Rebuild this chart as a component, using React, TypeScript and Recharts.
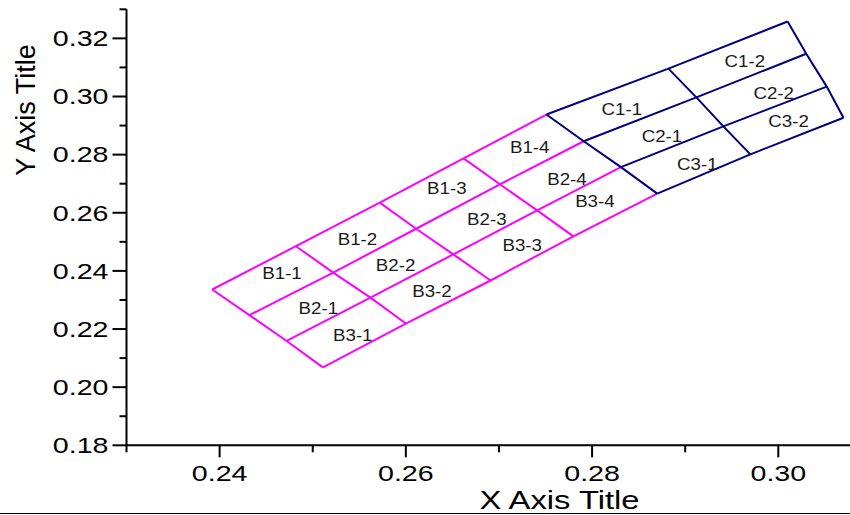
import React from 'react';
import { ScatterChart, Scatter, XAxis, YAxis, Label } from 'recharts';

// ---- axis ticks ----
const xTicks = [0.23, 0.24, 0.25, 0.26, 0.27, 0.28, 0.29, 0.3];
const yTicks = [0.18, 0.19, 0.2, 0.21, 0.22, 0.23, 0.24, 0.25, 0.26, 0.27, 0.28, 0.29, 0.3, 0.31, 0.32, 0.33];
const xDomain = [0.23, 0.3077];
const yDomain = [0.18, 0.33];

// ---- B grid vertices (rows 0..3, columns 0..4) ----
const bX = [
  [0.2392, 0.2482, 0.2572, 0.2662, 0.2751],
  [0.2432, 0.2522, 0.2611, 0.2701, 0.2791],
  [0.2472, 0.2562, 0.2651, 0.2741, 0.2831],
  [0.2511, 0.26, 0.2691, 0.278, 0.287],
];
const bY = [
  [0.2336, 0.2485, 0.2635, 0.2787, 0.2938],
  [0.2248, 0.2394, 0.2545, 0.2698, 0.2846],
  [0.2159, 0.2308, 0.2457, 0.2608, 0.2757],
  [0.2068, 0.2219, 0.2367, 0.2519, 0.2666],
];

// ---- C grid vertices (rows 0..3, columns 0..2) ----
const cX = [
  [0.2751, 0.2882, 0.301],
  [0.2791, 0.2912, 0.303],
  [0.2831, 0.2941, 0.3052],
  [0.287, 0.297, 0.307],
];
const cY = [
  [0.2938, 0.3096, 0.3258],
  [0.2846, 0.2997, 0.3147],
  [0.2757, 0.2897, 0.3034],
  [0.2666, 0.2801, 0.2927],
];

// ---- cell labels ----
const labelNames = ['B1-1', 'B2-1', 'B3-1', 'B1-2', 'B2-2', 'B3-2', 'B1-3', 'B2-3', 'B3-3', 'B1-4', 'B2-4', 'B3-4', 'C1-1', 'C2-1', 'C3-1', 'C1-2', 'C2-2', 'C3-2'];
const labelX = [0.2467, 0.2506, 0.2543, 0.2548, 0.2589, 0.2628, 0.2644, 0.2687, 0.2725, 0.2733, 0.2773, 0.2803, 0.2832, 0.2875, 0.2913, 0.2964, 0.2995, 0.3011];
const labelY = [0.2395, 0.2275, 0.2182, 0.2512, 0.2423, 0.2334, 0.2687, 0.2581, 0.2492, 0.2828, 0.2718, 0.2643, 0.2959, 0.2866, 0.277, 0.3124, 0.3014, 0.2918];

const MAGENTA = '#FF00FF';
const NAVY = '#000080';
const FONT = "'Liberation Sans', Arial, sans-serif";

type Pt = { x: number; y: number };

function gridSegments(gx: number[][], gy: number[][], skipLastCol: boolean): Pt[][] {
  const rows = gx.length;
  const cols = gx[0].length;
  const segs: Pt[][] = [];
  for (let r = 0; r < rows; r++) {
    segs.push(gx[r].map((x, c) => ({ x, y: gy[r][c] })));
  }
  const colCount = skipLastCol ? cols - 1 : cols;
  for (let c = 0; c < colCount; c++) {
    const s: Pt[] = [];
    for (let r = 0; r < rows; r++) s.push({ x: gx[r][c], y: gy[r][c] });
    segs.push(s);
  }
  return segs;
}

const bSegments = gridSegments(bX, bY, true);
const cSegments = gridSegments(cX, cY, false);
const labelData = labelNames.map((name, i) => ({ x: labelX[i], y: labelY[i], name }));

const EmptyShape = () => <g />;

const LabelShape = (p: any) => (
  <text
    transform={`translate(${p.cx},${p.cy + 6.5}) scale(1.1,1)`}
    textAnchor="middle"
    fontSize={17}
    fontFamily={FONT}
    fill="#1a1a1a"
  >
    {p.payload.name}
  </text>
);

const isMajor = (v: number) => Math.round(v * 100) % 2 === 0;

const YTick = (props: any) => {
  const { x, y, payload } = props;
  const v = payload.value as number;
  const major = isMajor(v);
  return (
    <g>
      <line x1={x} x2={x - (major ? 14 : 7)} y1={y} y2={y} stroke="#000" strokeWidth={2} />
      {major && (
        <text
          transform={`translate(${x - 18},${y + 7.8}) scale(1.3,1)`}
          textAnchor="end"
          fontSize={22}
          fontFamily={FONT}
          fill="#000"
        >
          {v.toFixed(2)}
        </text>
      )}
    </g>
  );
};

const XTick = (props: any) => {
  const { x, y, payload } = props;
  const v = payload.value as number;
  const major = isMajor(v);
  return (
    <g>
      <line x1={x} x2={x} y1={y} y2={y + (major ? 12 : 7)} stroke="#000" strokeWidth={2} />
      {major && (
        <text
          transform={`translate(${x},${y + 35.4}) scale(1.3,1)`}
          textAnchor="middle"
          fontSize={22}
          fontFamily={FONT}
          fill="#000"
        >
          {v.toFixed(2)}
        </text>
      )}
    </g>
  );
};

const XTitle = () => (
  <text transform="translate(559.5,508.5) scale(1.26,1)" textAnchor="middle" fontSize={26} fontFamily={FONT} fill="#000">
    X Axis Title
  </text>
);

const YTitle = () => (
  <text transform="translate(35,110) rotate(-90)" textAnchor="middle" fontSize={27} fontFamily={FONT} fill="#000">
    Y Axis Title
  </text>
);

export default function App() {
  return (
    <div style={{ position: 'fixed', left: 0, top: 0, width: 850, height: 515, background: '#fff' }}>
      <ScatterChart width={850} height={515} margin={{ top: 9.3, right: 0, bottom: 0, left: 0 }}>
        <XAxis
          type="number"
          dataKey="x"
          domain={xDomain}
          ticks={xTicks}
          interval={0}
          allowDataOverflow
          height={69.7}
          tickSize={0}
          tickMargin={0}
          tickLine={false}
          axisLine={{ stroke: '#000', strokeWidth: 2 }}
          tick={<XTick />}
          label={<Label content={<XTitle />} />}
        />
        <YAxis
          type="number"
          dataKey="y"
          domain={yDomain}
          ticks={yTicks}
          interval={0}
          allowDataOverflow
          width={126.5}
          tickSize={0}
          tickMargin={0}
          tickLine={false}
          axisLine={{ stroke: '#000', strokeWidth: 2 }}
          tick={<YTick />}
          label={<Label content={<YTitle />} />}
        />
        {bSegments.map((seg, i) => (
          <Scatter
            key={`b${i}`}
            data={seg}
            fill={MAGENTA}
            stroke={MAGENTA}
            line={{ stroke: MAGENTA, strokeWidth: 2 }}
            shape={<EmptyShape />}
            isAnimationActive={false}
          />
        ))}
        {cSegments.map((seg, i) => (
          <Scatter
            key={`c${i}`}
            data={seg}
            fill={NAVY}
            stroke={NAVY}
            line={{ stroke: NAVY, strokeWidth: 2 }}
            shape={<EmptyShape />}
            isAnimationActive={false}
          />
        ))}
        <Scatter data={labelData} fill="#1a1a1a" shape={<LabelShape />} isAnimationActive={false} />
      </ScatterChart>
      <div style={{ position: 'absolute', left: 0, top: 512.5, width: 850, height: 1.5, background: '#000' }} />
    </div>
  );
}
